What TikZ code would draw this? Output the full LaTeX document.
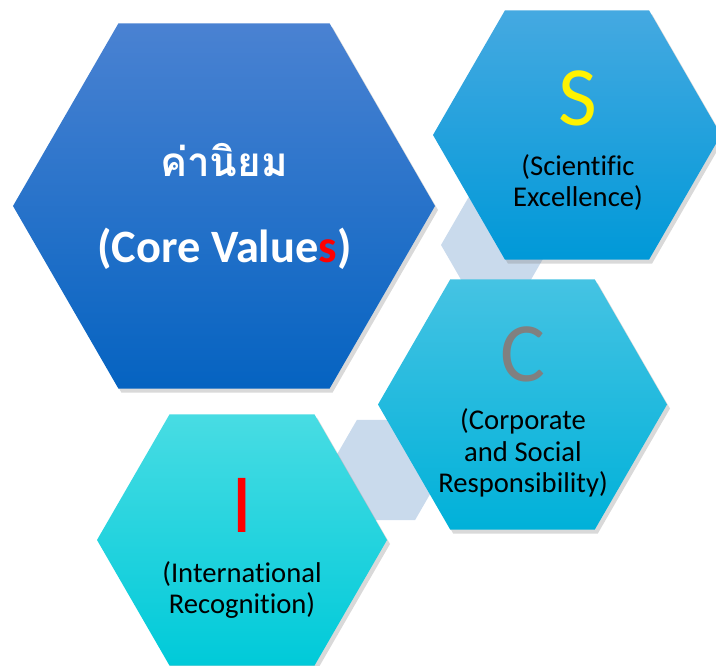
\documentclass[tikz,border=0pt]{standalone}
\usepackage{fontspec}
\setmainfont[Ligatures=NoCommon]{Carlito}
\newfontfamily\thaifont[Script=Thai]{Loma}
\usetikzlibrary{shapes.geometric,shadows}

\definecolor{coretop}{HTML}{4A82D2}
\definecolor{corebot}{HTML}{0563C1}
\definecolor{stop}{HTML}{45A9E1}
\definecolor{sbot}{HTML}{0099D8}
\definecolor{ctop}{HTML}{45C3E3}
\definecolor{cbot}{HTML}{00B1D9}
\definecolor{itop}{HTML}{48DCE3}
\definecolor{ibot}{HTML}{00CAD9}
\definecolor{linkhex}{HTML}{C9DAEC}

\begin{document}
\begin{tikzpicture}[
    hexa/.style={regular polygon, regular polygon sides=6, inner sep=0pt, minimum size=#1},
    valuehex/.style={drop shadow={shadow xshift=0.6mm, shadow yshift=-0.8mm, opacity=0.3}},
    letter/.style={anchor=base, inner sep=0pt, font=\fontsize{48}{50}\selectfont},
    desc/.style={align=center, inner sep=0pt, font=\fontsize{16.3}{17.8}\selectfont}
  ]
  \clip (0,0) rectangle (14.32,13.32);

  % pale link hexagons in the background
  \node[hexa=2.2cm, fill=linkhex] (linkSC) at (9.92,8.42) {};
  \node[hexa=2.32cm, fill=linkhex] (linkCI) at (7.72,3.92) {};

  % Core values - largest hexagon
  \node[hexa=8.44cm, valuehex, top color=coretop, bottom color=corebot] (core) at (4.48,9.20) {};
  \node[anchor=base, text=white, font=\thaifont\bfseries\fontsize{23}{28}\selectfont] (coreth) at (4.48,9.78) {ค่านิยม};
  \node[anchor=base, text=white, font=\bfseries\fontsize{26.4}{30}\selectfont] (coreen) at (4.49,8.06) {(Core Value\textcolor{red}{s})};

  % S, C and I hexagons
  \node[hexa=5.76cm, valuehex, top color=stop, bottom color=sbot] (S) at (11.54,10.62) {};
  \node[letter, text=yellow] (Sl) at (11.56,10.80) {S};
  \node[desc] (Sd) at (11.56,9.67) {(Scientific\\Excellence)};

  \node[hexa=5.78cm, valuehex, top color=ctop, bottom color=cbot] (C) at (10.45,5.23) {};
  \node[letter, text=gray] (Cl) at (10.46,5.68) {C};
  \node[desc] (Cd) at (10.46,4.26) {(Corporate\\and Social\\Responsibility)};

  \node[hexa=5.8cm, valuehex, top color=itop, bottom color=ibot] (I) at (4.84,2.52) {};
  \node[letter, text=red] (Il) at (4.84,2.66) {I};
  \node[desc] (Id) at (4.84,1.52) {(International\\Recognition)};
\end{tikzpicture}
\end{document}
